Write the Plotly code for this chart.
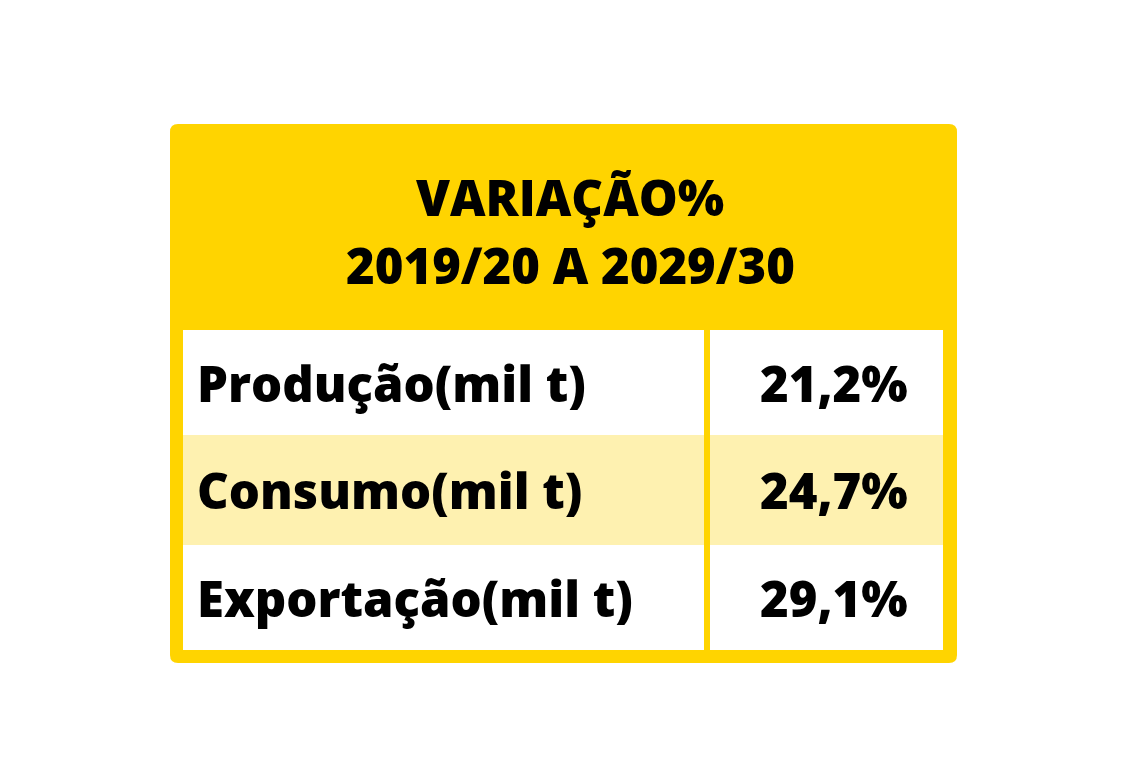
import plotly.graph_objects as go

titulo = ['VARIAÇÃO%', '2019/20 A 2029/30']
itens = ['Produção(mil t)', 'Consumo(mil t)', 'Exportação(mil t)']
valores = ['21,2%', '24,7%', '29,1%']

amarelo = '#FFD400'
claro = '#FEF1B0'
fonte = dict(family='Open Sans', size=49, color='black', weight=800)

d = 8  # compensa a margem da página

fig = go.Figure()
shapes = []
ann = []

# caixa amarela com cantos arredondados
x0, x1, y0, y1, r = 170-d, 957-d, 124-d, 663-d, 8
path = (f'M {x0+r},{y0} L {x1-r},{y0} Q {x1},{y0} {x1},{y0+r} L {x1},{y1-r} Q {x1},{y1} {x1-r},{y1} '
        f'L {x0+r},{y1} Q {x0},{y1} {x0},{y1-r} L {x0},{y0+r} Q {x0},{y0} {x0+r},{y0} Z')
shapes.append(dict(type='path', path=path, fillcolor=amarelo, line=dict(width=0), layer='below'))

for i, t in enumerate(titulo):
    ann.append(dict(x=570-d, y=197-d + i*68, text=t, showarrow=False, font=fonte))

topo = 330 - d
alturas = [105, 110, 105]
for i, (nome, v) in enumerate(zip(itens, valores)):
    cor = claro if i == 1 else 'white'
    ya = topo + sum(alturas[:i])
    yb = ya + alturas[i]
    shapes.append(dict(type='rect', x0=183-d, x1=704-d, y0=ya, y1=yb, fillcolor=cor, line=dict(width=0), layer='below'))
    shapes.append(dict(type='rect', x0=710-d, x1=943-d, y0=ya, y1=yb, fillcolor=cor, line=dict(width=0), layer='below'))
    ann.append(dict(x=195-d, y=(ya+yb)/2, text=nome, showarrow=False, xanchor='left', font=fonte))
    ann.append(dict(x=834-d, y=(ya+yb)/2, text=v, showarrow=False, font=fonte))

fig.update_layout(
    width=1139, height=775,
    margin=dict(l=0, r=0, t=0, b=0),
    paper_bgcolor='white', plot_bgcolor='white',
    xaxis=dict(range=[0, 1139], visible=False, fixedrange=True),
    yaxis=dict(range=[775, 0], visible=False, fixedrange=True),
    shapes=shapes, annotations=ann, showlegend=False,
)

fig.write_html('out.html')
